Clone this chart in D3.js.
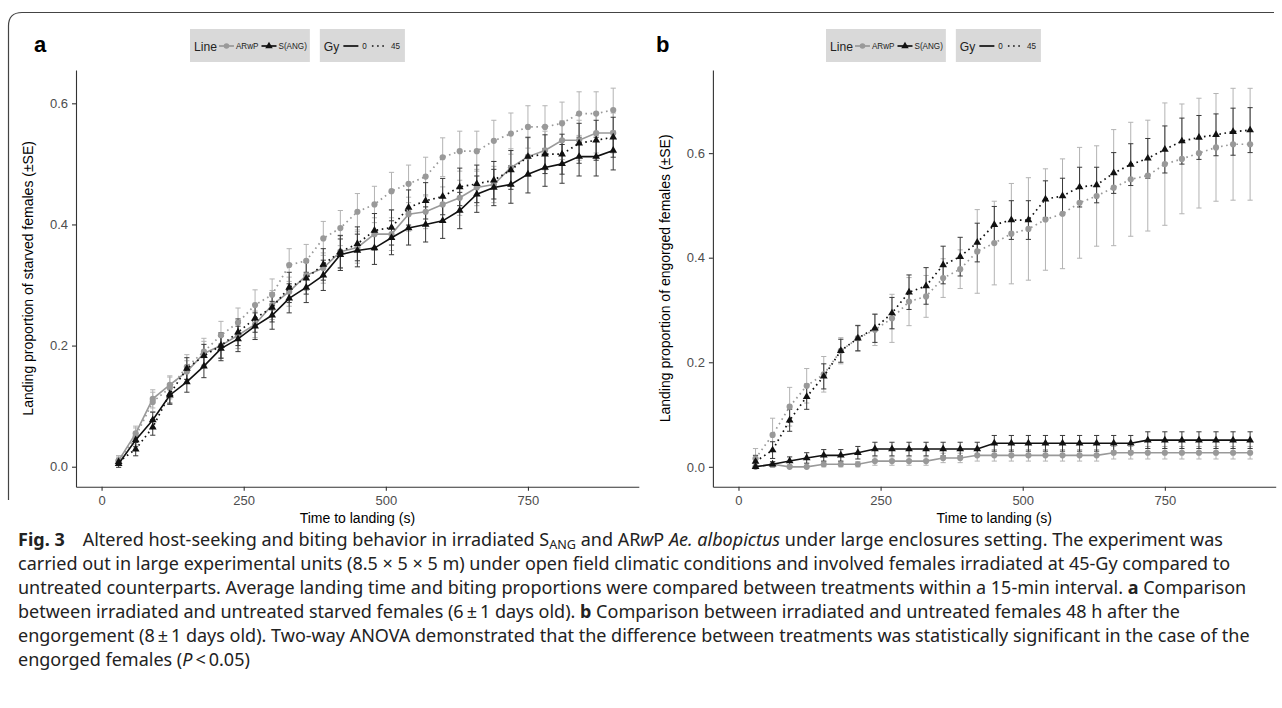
<!DOCTYPE html>
<html>
<head>
<meta charset="utf-8">
<script src="https://cdn.jsdelivr.net/npm/d3@7/dist/d3.min.js"></script>
<style>
  body { margin: 0; background: #fff; }
  svg { display: block; }
</style>
</head>
<body>
<div id="chart"></div>
<script>
// time points (s)
const times = [30, 60, 90, 120, 150, 180, 210, 240, 270, 300, 330, 360, 390, 420, 450,
               480, 510, 540, 570, 600, 630, 660, 690, 720, 750, 780, 810, 840, 870, 900];
const xTicks = [0, 250, 500, 750];
const yTicks = [0, 0.2, 0.4, 0.6];
const lineNames = ['ARwP', 'S(ANG)'];
const gyNames = ['0', '45'];

// panel a : starved females
const starvedARwP0 = [0.010,0.055,0.112,0.135,0.157,0.187,0.200,0.217,0.235,0.267,0.289,0.316,0.328,0.355,0.362,
                      0.384,0.384,0.417,0.421,0.433,0.444,0.461,0.466,0.494,0.512,0.522,0.539,0.539,0.551,0.551];
const starvedARwP0SE = [0.008,0.012,0.015,0.015,0.018,0.020,0.020,0.022,0.022,0.024,0.024,0.025,0.025,0.026,0.026,
                        0.027,0.027,0.028,0.028,0.029,0.029,0.030,0.030,0.031,0.031,0.032,0.032,0.033,0.033,0.033];
const starvedARwP45 = [0.010,0.050,0.107,0.130,0.165,0.190,0.217,0.238,0.267,0.284,0.333,0.340,0.377,0.394,0.421,
                       0.433,0.455,0.467,0.479,0.511,0.521,0.521,0.538,0.550,0.561,0.561,0.567,0.583,0.583,0.589];
const starvedARwP45SE = [0.008,0.014,0.016,0.018,0.020,0.022,0.023,0.024,0.025,0.026,0.027,0.027,0.028,0.029,0.030,
                         0.030,0.031,0.031,0.032,0.032,0.033,0.033,0.034,0.034,0.035,0.035,0.035,0.036,0.036,0.036];
const starvedSANG0 = [0.005,0.044,0.077,0.118,0.140,0.166,0.195,0.211,0.232,0.250,0.278,0.296,0.316,0.350,0.357,
                      0.361,0.378,0.394,0.400,0.406,0.423,0.450,0.461,0.466,0.483,0.494,0.500,0.512,0.512,0.522];
const starvedSANG0SE = [0.006,0.011,0.013,0.015,0.017,0.019,0.020,0.021,0.022,0.023,0.024,0.025,0.025,0.026,0.027,
                        0.027,0.028,0.028,0.029,0.029,0.030,0.030,0.030,0.031,0.031,0.031,0.032,0.032,0.032,0.032];
const starvedSANG45 = [0.008,0.029,0.065,0.120,0.162,0.183,0.200,0.222,0.245,0.263,0.296,0.311,0.334,0.355,0.368,
                       0.390,0.395,0.428,0.439,0.446,0.462,0.467,0.473,0.490,0.512,0.516,0.516,0.534,0.539,0.544];
const starvedSANG45SE = [0.006,0.011,0.013,0.015,0.018,0.019,0.021,0.022,0.023,0.024,0.025,0.026,0.026,0.027,0.028,
                         0.028,0.029,0.029,0.030,0.030,0.031,0.031,0.031,0.032,0.032,0.032,0.033,0.033,0.033,0.033];

// panel b : engorged females
const engorgedARwP0 = [0.000,0.005,0.000,0.000,0.005,0.005,0.005,0.011,0.011,0.011,0.011,0.017,0.017,0.022,0.022,
                       0.022,0.022,0.022,0.022,0.022,0.022,0.027,0.027,0.027,0.027,0.027,0.027,0.027,0.027,0.027];
const engorgedARwP0SE = [0.000,0.005,0.000,0.000,0.005,0.005,0.005,0.008,0.008,0.008,0.008,0.009,0.009,0.011,0.011,
                         0.011,0.011,0.011,0.011,0.011,0.011,0.012,0.012,0.012,0.012,0.012,0.012,0.012,0.012,0.012];
const engorgedARwP45 = [0.016,0.061,0.115,0.155,0.177,0.222,0.246,0.262,0.284,0.316,0.326,0.361,0.378,0.412,0.428,
                        0.446,0.455,0.473,0.484,0.505,0.518,0.534,0.550,0.557,0.579,0.589,0.600,0.611,0.617,0.617];
const engorgedARwP45SE = [0.019,0.032,0.037,0.033,0.034,0.025,0.025,0.030,0.046,0.046,0.040,0.037,0.037,0.080,0.080,
                          0.096,0.098,0.097,0.105,0.106,0.096,0.111,0.109,0.106,0.117,0.105,0.105,0.103,0.107,0.107];
const engorgedSANG0 = [0.000,0.005,0.011,0.017,0.022,0.022,0.027,0.034,0.034,0.034,0.034,0.034,0.034,0.034,0.045,
                       0.045,0.045,0.045,0.045,0.045,0.045,0.045,0.045,0.051,0.051,0.051,0.051,0.051,0.051,0.051];
const engorgedSANG0SE = [0.000,0.005,0.008,0.010,0.011,0.011,0.012,0.013,0.013,0.013,0.013,0.013,0.013,0.013,0.015,
                         0.015,0.015,0.015,0.015,0.015,0.015,0.015,0.015,0.016,0.016,0.016,0.016,0.016,0.016,0.016];
const engorgedSANG45 = [0.010,0.032,0.089,0.134,0.173,0.222,0.246,0.265,0.294,0.334,0.346,0.386,0.402,0.429,0.463,
                        0.472,0.472,0.512,0.518,0.535,0.539,0.562,0.578,0.590,0.607,0.623,0.630,0.635,0.641,0.644];
const engorgedSANG45SE = [0.012,0.016,0.021,0.024,0.024,0.022,0.024,0.027,0.030,0.033,0.035,0.036,0.037,0.037,0.035,
                          0.037,0.037,0.035,0.034,0.038,0.034,0.039,0.040,0.038,0.045,0.044,0.042,0.040,0.045,0.043];

const W = 1282, H = 708;
const PANEL_TOP = 70, PANEL_BOTTOM = 486.7;
const X_DOMAIN = [-45, 945];
const FONT = "'Liberation Sans', Arial, sans-serif";
const NARROW = "'Liberation Sans Narrow', 'Liberation Sans', Arial, sans-serif";

// look of each line / dose
const lineColor = {'ARwP': '#999999', 'S(ANG)': '#111111'};
const barColor = {'ARwP': '#b3b3b3', 'S(ANG)': '#3a3a3a'};
const lineSymbol = {'ARwP': d3.symbolCircle, 'S(ANG)': d3.symbolTriangle};
const symbolSize = {'ARwP': 30, 'S(ANG)': 26};
const gyDash = {'0': null, '45': '1.6,3.6'};

const svg = d3.select('#chart').append('svg')
  .attr('width', W)
  .attr('height', H);

// figure frame (top + left with round corner)
svg.append('path')
  .attr('d', 'M8.5,500 V26 Q8.5,12.5 22,12.5 H1274')
  .attr('fill', 'none')
  .attr('stroke', '#444')
  .attr('stroke-width', 1.2);

function drawPanel(p) {
  const x = d3.scaleLinear().domain(X_DOMAIN).range([p.left, p.right]);
  const y = d3.scaleLinear().domain(p.yDomain).range([PANEL_BOTTOM, PANEL_TOP]);
  const g = svg.append('g');

  const xAxis = g.append('g')
    .attr('transform', `translate(0,${PANEL_BOTTOM})`)
    .call(d3.axisBottom(x).tickValues(xTicks).tickSize(4).tickPadding(5).tickSizeOuter(0));
  const yAxis = g.append('g')
    .attr('transform', `translate(${p.left},0)`)
    .call(d3.axisLeft(y).tickValues(yTicks).tickFormat(d3.format('.1f')).tickSize(4).tickPadding(4).tickSizeOuter(0));
  [xAxis, yAxis].forEach(a => {
    a.select('.domain').attr('stroke', '#333').attr('stroke-width', 1.1);
    a.selectAll('.tick line').attr('stroke', '#333').attr('stroke-width', 1.1);
    a.selectAll('.tick text').attr('fill', '#4d4d4d').attr('font-size', 13).attr('font-family', FONT);
  });

  // axis titles
  g.append('text')
    .attr('x', (p.left + p.right) / 2)
    .attr('y', 523)
    .attr('text-anchor', 'middle')
    .attr('font-family', FONT)
    .attr('font-size', 14)
    .text('Time to landing (s)');
  g.append('text')
    .attr('transform', `translate(${p.left - 43},${(PANEL_TOP + PANEL_BOTTOM) / 2}) rotate(-90)`)
    .attr('text-anchor', 'middle')
    .attr('font-family', FONT)
    .attr('font-size', 14)
    .text(p.yTitle);

  // panel letter
  g.append('text')
    .attr('x', p.letterX)
    .attr('y', 52)
    .attr('font-family', FONT)
    .attr('font-weight', 'bold')
    .attr('font-size', 22)
    .text(p.letter);

  const line = d3.line().x(d => x(d.t)).y(d => y(d.v));

  p.series.forEach(s => {
    const pts = times.map((t, i) => ({t: t, v: s.values[i], se: s.se[i]}));
    const sg = g.append('g');
    // error bars
    const bars = sg.selectAll('g.bar').data(pts).enter().append('g')
      .attr('stroke', barColor[s.line])
      .attr('stroke-width', 1);
    bars.append('line')
      .attr('x1', d => x(d.t)).attr('x2', d => x(d.t))
      .attr('y1', d => y(d.v - d.se)).attr('y2', d => y(d.v + d.se));
    bars.append('line')
      .attr('x1', d => x(d.t) - 2.6).attr('x2', d => x(d.t) + 2.6)
      .attr('y1', d => y(d.v + d.se)).attr('y2', d => y(d.v + d.se));
    bars.append('line')
      .attr('x1', d => x(d.t) - 2.6).attr('x2', d => x(d.t) + 2.6)
      .attr('y1', d => y(d.v - d.se)).attr('y2', d => y(d.v - d.se));
  });

  p.series.forEach(s => {
    const pts = times.map((t, i) => ({t: t, v: s.values[i]}));
    g.append('path')
      .datum(pts)
      .attr('d', line)
      .attr('fill', 'none')
      .attr('stroke', lineColor[s.line])
      .attr('stroke-width', s.gy === '45' ? 1.7 : 1.6)
      .attr('stroke-dasharray', gyDash[s.gy]);
    g.selectAll(null).data(pts).enter().append('path')
      .attr('d', d3.symbol().type(lineSymbol[s.line]).size(symbolSize[s.line]))
      .attr('transform', d => `translate(${x(d.t)},${y(d.v)})`)
      .attr('fill', lineColor[s.line]);
  });

  drawLegend(p.legendX, 29);
}

function keyGlyph(g, x0, yc, color, dash, symbol) {
  g.append('line')
    .attr('x1', x0).attr('x2', x0 + 15)
    .attr('y1', yc).attr('y2', yc)
    .attr('stroke', color)
    .attr('stroke-width', 1.7)
    .attr('stroke-dasharray', dash);
  if (symbol) {
    g.append('path')
      .attr('d', d3.symbol().type(symbol).size(24))
      .attr('transform', `translate(${x0 + 7.5},${yc})`)
      .attr('fill', color);
  }
  return 15;
}

function legendBox(x0, y0, build) {
  const g = svg.append('g').attr('transform', `translate(${x0},${y0})`);
  const bg = g.append('rect').attr('fill', '#d9d9d9').attr('height', 33).attr('y', 0);
  const w = build(g);
  bg.attr('width', w);
  return w;
}

// condensed look: squeeze the glyphs a bit, like the narrow face of the original
function addText(g, x0, size, str) {
  const t = g.append('text')
    .attr('x', x0).attr('y', 17 + size * 0.36)
    .attr('font-family', NARROW)
    .attr('font-size', size)
    .attr('fill', '#222')
    .text(str);
  const w = t.node().getComputedTextLength() * 0.9;
  t.attr('textLength', w).attr('lengthAdjust', 'spacingAndGlyphs');
  return w;
}

function drawLegend(x0, y0) {
  const w1 = legendBox(x0, y0, g => {
    let cx = 4;
    cx += addText(g, cx, 13.5, 'Line') + 2;
    lineNames.forEach(n => {
      cx += keyGlyph(g, cx, 17, lineColor[n], null, lineSymbol[n]) + 2;
      cx += addText(g, cx, 9, n) + 3;
    });
    return cx;
  });
  legendBox(x0 + w1 + 10, y0, g => {
    let cx = 4;
    cx += addText(g, cx, 13.5, 'Gy') + 4;
    gyNames.forEach(n => {
      cx += keyGlyph(g, cx, 17, '#111', gyDash[n], null) + 4;
      cx += addText(g, cx, 9, n) + 5;
    });
    return cx;
  });
}

drawPanel({
  letter: 'a', letterX: 34, left: 76, right: 638.8, legendX: 190,
  yDomain: [-0.033, 0.655],
  yTitle: 'Landing proportion of starved females (\u00B1SE)',
  series: [
    {line: 'ARwP', gy: '0', values: starvedARwP0, se: starvedARwP0SE},
    {line: 'ARwP', gy: '45', values: starvedARwP45, se: starvedARwP45SE},
    {line: 'S(ANG)', gy: '0', values: starvedSANG0, se: starvedSANG0SE},
    {line: 'S(ANG)', gy: '45', values: starvedSANG45, se: starvedSANG45SE}
  ]
});

drawPanel({
  letter: 'b', letterX: 656, left: 712.9, right: 1275.7, legendX: 826,
  yDomain: [-0.038, 0.759],
  yTitle: 'Landing proportion of engorged females (\u00B1SE)',
  series: [
    {line: 'ARwP', gy: '0', values: engorgedARwP0, se: engorgedARwP0SE},
    {line: 'ARwP', gy: '45', values: engorgedARwP45, se: engorgedARwP45SE},
    {line: 'S(ANG)', gy: '0', values: engorgedSANG0, se: engorgedSANG0SE},
    {line: 'S(ANG)', gy: '45', values: engorgedSANG45, se: engorgedSANG45SE}
  ]
});

// caption
const captionLines = [
  [['b', 'Fig. 3'], ['n', '\u2003Altered host-seeking and biting behavior in irradiated S'], ['sub', 'ANG'], ['n', ' and AR'], ['i', 'w'], ['n', 'P '], ['i', 'Ae. albopictus'], ['n', ' under large enclosures setting. The experiment was']],
  [['n', 'carried out in large experimental units (8.5 \u00D7 5 \u00D7 5 m) under open field climatic conditions and involved females irradiated at 45-Gy compared to']],
  [['n', 'untreated counterparts. Average landing time and biting proportions were compared between treatments within a 15-min interval. '], ['b', 'a'], ['n', ' Comparison']],
  [['n', 'between irradiated and untreated starved females (6\u2009\u00B1\u20091 days old). '], ['b', 'b'], ['n', ' Comparison between irradiated and untreated females 48 h after the']],
  [['n', 'engorgement (8\u2009\u00B1\u20091 days old). Two-way ANOVA demonstrated that the difference between treatments was statistically significant in the case of the']],
  [['n', 'engorged females ('], ['i', 'P'], ['n', '\u2009<\u20090.05)']]
];

const CAP_SIZE = 18;
const cap = svg.append('g')
  .attr('font-family', "'Noto Sans', 'Open Sans', sans-serif")
  .attr('font-size', CAP_SIZE)
  .attr('fill', '#222');
captionLines.forEach((parts, i) => {
  const t = cap.append('text').attr('x', 18).attr('y', 546 + i * 24);
  parts.forEach(([k, str]) => {
    const ts = t.append('tspan').text(str);
    if (k === 'b') ts.attr('font-weight', 'bold');
    if (k === 'i') ts.attr('font-style', 'italic');
    if (k === 'sub') ts.attr('font-size', CAP_SIZE * 0.7).attr('baseline-shift', '-25%');
  });
});
</script>
</body>
</html>
